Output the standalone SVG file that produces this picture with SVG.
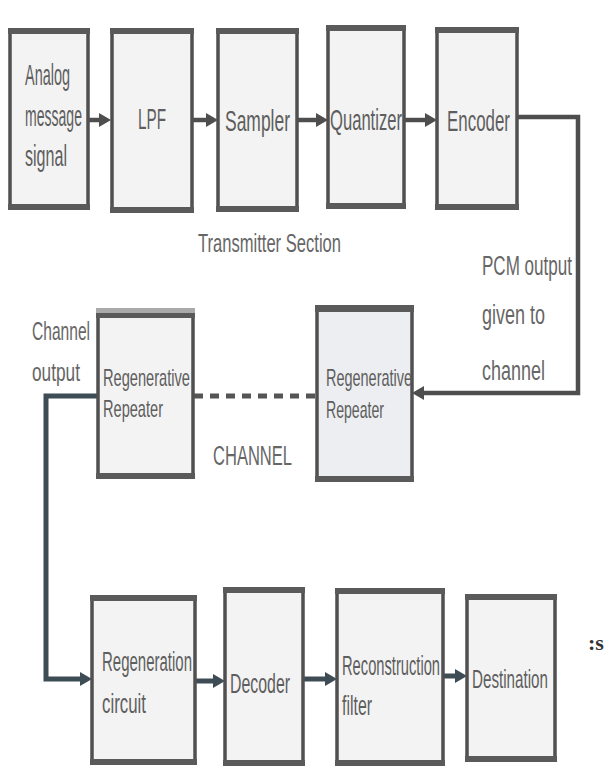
<svg xmlns="http://www.w3.org/2000/svg" width="615" height="768" viewBox="0 0 615 768">
<style>
.box{fill:#f3f3f3;stroke:#505050;stroke-width:3.5}
.boxb{fill:#eceef1;stroke:#505050;stroke-width:3.5}
.bar{fill:#5a5a5a}
.t{font-family:"Liberation Sans",Arial,sans-serif;fill:#5e5e5e}
.lbl{font-family:"Liberation Sans",Arial,sans-serif;fill:#666}
.c{fill:none;stroke:#4e4e4e;stroke-width:4.5}
.cb{fill:none;stroke:#3e4c56;stroke-width:5}
</style>
<defs>
<marker id="ah" markerUnits="userSpaceOnUse" markerWidth="13" markerHeight="15" refX="2" refY="7" orient="auto">
<path d="M0,0 L12,7 L0,14 z" fill="#4e4e4e"/>
</marker>
<marker id="ahb" markerUnits="userSpaceOnUse" markerWidth="13" markerHeight="15" refX="2" refY="7" orient="auto">
<path d="M0,0 L12,7 L0,14 z" fill="#3e4c56"/>
</marker>
</defs>
<rect width="615" height="768" fill="#ffffff"/>

<g id="connectors">
<line class="c" x1="88" y1="120" x2="101" y2="120" marker-end="url(#ah)"/>
<line class="c" x1="192" y1="120" x2="208" y2="120" marker-end="url(#ah)"/>
<line class="c" x1="297" y1="120" x2="318" y2="120" marker-end="url(#ah)"/>
<line class="c" x1="405" y1="120" x2="427" y2="120" marker-end="url(#ah)"/>
<polyline class="c" points="517,117 578,117 578,393 422,393" marker-end="url(#ah)"/>
<line x1="194" y1="396" x2="315" y2="396" stroke="#555" stroke-width="5" stroke-dasharray="9 7"/>
<polyline class="cb" points="98,396 46,396 46,679 82,679" marker-end="url(#ahb)"/>
<line class="cb" x1="195" y1="681" x2="215" y2="681" marker-end="url(#ahb)"/>
<line class="cb" x1="303" y1="679" x2="327" y2="679" marker-end="url(#ahb)"/>
<line class="cb" x1="443" y1="676" x2="457" y2="676" marker-end="url(#ahb)"/>
</g>

<g id="analog">
<rect class="box" x="10" y="30" width="78" height="178"/>
<rect class="bar" x="8" y="28" width="82" height="6"/>
<rect class="bar" x="8" y="204" width="82" height="6"/>
<text class="t" x="25" y="85" font-size="30" textLength="45" lengthAdjust="spacingAndGlyphs">Analog</text>
<text class="t" x="25" y="126" font-size="30" textLength="57" lengthAdjust="spacingAndGlyphs">message</text>
<text class="t" x="25" y="166" font-size="30" textLength="42" lengthAdjust="spacingAndGlyphs">signal</text>
</g>
<g id="lpf">
<rect class="box" x="112" y="30" width="80" height="181"/>
<rect class="bar" x="110" y="28" width="84" height="6"/>
<rect class="bar" x="110" y="207" width="84" height="6"/>
<text class="t" x="138" y="129" font-size="29" textLength="28" lengthAdjust="spacingAndGlyphs">LPF</text>
</g>
<g id="sampler">
<rect class="box" x="218" y="30" width="79" height="180"/>
<rect class="bar" x="216" y="28" width="83" height="6"/>
<rect class="bar" x="216" y="206" width="83" height="6"/>
<text class="t" x="225" y="131" font-size="30" textLength="65" lengthAdjust="spacingAndGlyphs">Sampler</text>
</g>
<g id="quantizer">
<rect class="box" x="328" y="27" width="76" height="180"/>
<rect class="bar" x="326" y="25" width="80" height="6"/>
<rect class="bar" x="326" y="203" width="80" height="6"/>
<text class="t" x="330" y="130" font-size="30" textLength="72" lengthAdjust="spacingAndGlyphs">Quantizer</text>
</g>
<g id="encoder">
<rect class="box" x="437" y="29" width="80" height="179"/>
<rect class="bar" x="435" y="27" width="84" height="6"/>
<rect class="bar" x="435" y="204" width="84" height="6"/>
<text class="t" x="447" y="131" font-size="30" textLength="63" lengthAdjust="spacingAndGlyphs">Encoder</text>
</g>

<g id="labels">
<text class="lbl" x="198" y="252" font-size="26" textLength="143" lengthAdjust="spacingAndGlyphs">Transmitter Section</text>
<text class="lbl" x="482" y="275" font-size="27" textLength="90" lengthAdjust="spacingAndGlyphs">PCM output</text>
<text class="lbl" x="482" y="324" font-size="27" textLength="63" lengthAdjust="spacingAndGlyphs">given to</text>
<text class="lbl" x="482" y="380" font-size="27" textLength="63" lengthAdjust="spacingAndGlyphs">channel</text>
<text class="lbl" x="32" y="340" font-size="25" textLength="58" lengthAdjust="spacingAndGlyphs">Channel</text>
<text class="lbl" x="32" y="381" font-size="25" textLength="48" lengthAdjust="spacingAndGlyphs">output</text>
<text class="lbl" x="213" y="465" font-size="27" textLength="79" lengthAdjust="spacingAndGlyphs">CHANNEL</text>
<text x="588" y="650" font-family="'Liberation Serif',serif" font-weight="bold" font-size="22" fill="#333">:s</text>
</g>

<g id="repeater-left">
<rect class="box" x="98" y="312" width="95" height="165"/>
<rect x="96" y="308" width="99" height="5" fill="#aaa"/>
<rect class="bar" x="96" y="313" width="99" height="5"/>
<rect class="bar" x="96" y="473" width="99" height="6"/>
<text class="t" x="103" y="386" font-size="24" textLength="87" lengthAdjust="spacingAndGlyphs">Regenerative</text>
<text class="t" x="103" y="417" font-size="24" textLength="60" lengthAdjust="spacingAndGlyphs">Repeater</text>
</g>
<g id="repeater-right">
<rect class="boxb" x="317" y="307" width="95" height="173"/>
<rect class="bar" x="315" y="305" width="99" height="7"/>
<rect class="bar" x="315" y="476" width="99" height="6"/>
<text class="t" x="326" y="386" font-size="24" textLength="86" lengthAdjust="spacingAndGlyphs">Regenerative</text>
<text class="t" x="326" y="418" font-size="24" textLength="58" lengthAdjust="spacingAndGlyphs">Repeater</text>
</g>

<g id="regeneration">
<rect class="box" x="92" y="597" width="103" height="166"/>
<rect class="bar" x="90" y="595" width="107" height="6"/>
<rect class="bar" x="90" y="759" width="107" height="6"/>
<text class="t" x="102" y="671" font-size="27" textLength="90" lengthAdjust="spacingAndGlyphs">Regeneration</text>
<text class="t" x="102" y="713" font-size="27" textLength="44" lengthAdjust="spacingAndGlyphs">circuit</text>
</g>
<g id="decoder">
<rect class="box" x="225" y="589" width="78" height="175"/>
<rect class="bar" x="223" y="587" width="82" height="6"/>
<rect class="bar" x="223" y="760" width="82" height="6"/>
<text class="t" x="230" y="693" font-size="27" textLength="60" lengthAdjust="spacingAndGlyphs">Decoder</text>
</g>
<g id="reconstruction">
<rect class="box" x="337" y="590" width="106" height="174"/>
<rect class="bar" x="335" y="588" width="110" height="6"/>
<rect class="bar" x="335" y="760" width="110" height="6"/>
<text class="t" x="342" y="675" font-size="27" textLength="98" lengthAdjust="spacingAndGlyphs">Reconstruction</text>
<text class="t" x="342" y="715" font-size="27" textLength="30" lengthAdjust="spacingAndGlyphs">filter</text>
</g>
<g id="destination">
<rect class="box" x="467" y="596" width="88" height="164"/>
<rect class="bar" x="465" y="594" width="92" height="6"/>
<rect class="bar" x="465" y="756" width="92" height="6"/>
<text class="t" x="472" y="688" font-size="26" textLength="76" lengthAdjust="spacingAndGlyphs">Destination</text>
</g>
</svg>
